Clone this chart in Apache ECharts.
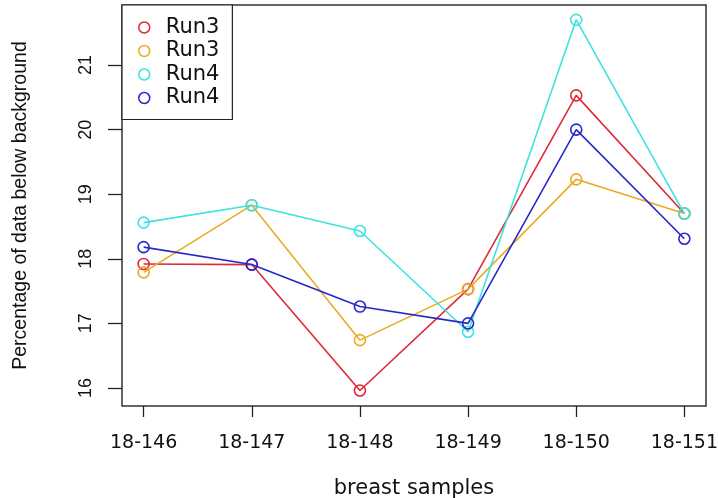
<!DOCTYPE html>
<html>
<head>
<meta charset="utf-8">
<script src="https://cdn.jsdelivr.net/npm/echarts@6/dist/echarts.min.js"></script>
<style>
  html, body { margin: 0; padding: 0; background: #fff; }
  #chart { width: 718px; height: 498px; }
</style>
</head>
<body>
<div id="chart"></div>
<script>
// Breast sample runs: percentage of data below background
const categories = ['18-146', '18-147', '18-148', '18-149', '18-150', '18-151'];
const seriesKeys = ['Run3#1', 'Run3#2', 'Run4#1', 'Run4#2'];
const run3a = [17.92, 17.91, 15.96, 17.53, 20.53, 18.70];
const run3b = [17.79, 18.83, 16.74, 17.53, 19.23, 18.70];
const run4a = [18.56, 18.83, 18.43, 16.87, 21.70, 18.70];
const run4b = [18.18, 17.91, 17.26, 17.00, 20.00, 18.31];
const yTicks = [16, 17, 18, 19, 20, 21];

const colors = ['#DE2B38', '#EBAA24', '#3FE2E2', '#2828C8'];
const values = [run3a, run3b, run4a, run4b];
const xIdx = categories.map((_, i) => i);

const hFont = 'DejaVu Sans';
const vFont = 'Liberation Sans';

const chart = echarts.init(document.getElementById('chart'), null, { renderer: 'canvas' });

chart.setOption({
  animation: false,
  backgroundColor: '#fff',
  grid: {
    left: 122, right: 12, top: 5, bottom: 92,
    containLabel: false,
    outerBoundsMode: 'none',
    show: true, borderColor: '#333', borderWidth: 1.5, backgroundColor: 'transparent'
  },
  legend: {
    left: 122, top: 5,
    orient: 'vertical',
    data: seriesKeys.map((k, i) => ({
      name: k,
      icon: 'circle',
      itemStyle: { color: '#fff', borderColor: colors[i], borderWidth: 1.5 }
    })),
    formatter: name => name.split('#')[0],
    itemWidth: 33, itemHeight: 11, itemGap: 2.5,
    padding: [12, 13, 11, 16],
    borderColor: '#222', borderWidth: 1.2,
    backgroundColor: '#fff',
    selectedMode: false,
    textStyle: { fontFamily: hFont, fontSize: 21, color: '#111' }
  },
  xAxis: {
    type: 'value',
    min: -0.2, max: 5.2,
    name: 'breast samples',
    nameLocation: 'middle',
    nameGap: 72,
    nameTextStyle: { fontFamily: hFont, fontSize: 21, color: '#111', verticalAlign: 'top' },
    axisLine: { show: false, onZero: false },
    splitLine: { show: false },
    axisTick: { show: true, length: 11, customValues: xIdx, lineStyle: { color: '#222', width: 1.3 } },
    axisLabel: {
      customValues: xIdx,
      margin: 28,
      fontFamily: hFont, fontSize: 19, color: '#111',
      formatter: v => categories[Math.round(v)]
    }
  },
  yAxis: {
    type: 'value',
    min: 15.72, max: 21.93,
    name: 'Percentage of data below background',
    nameLocation: 'middle',
    nameRotate: 90,
    nameGap: 91,
    nameTextStyle: { fontFamily: vFont, fontSize: 19.5, color: '#111' },
    axisLine: { show: false, onZero: false },
    splitLine: { show: false },
    axisTick: { show: true, length: 14, customValues: yTicks, lineStyle: { color: '#222', width: 1.3 } },
    axisLabel: {
      customValues: yTicks,
      rotate: 90,
      margin: 27,
      fontFamily: vFont, fontSize: 18, color: '#111'
    }
  },
  series: seriesKeys.map((k, i) => ({
    name: k,
    type: 'line',
    data: xIdx.map(x => [x, values[i][x]]),
    symbol: 'circle',
    symbolSize: 11,
    showSymbol: true,
    color: colors[i],
    lineStyle: { color: colors[i], width: 1.6 },
    itemStyle: { color: 'rgba(0,0,0,0)', borderColor: colors[i], borderWidth: 1.6 },
    emphasis: { disabled: true }
  }))
});
</script>
</body>
</html>
